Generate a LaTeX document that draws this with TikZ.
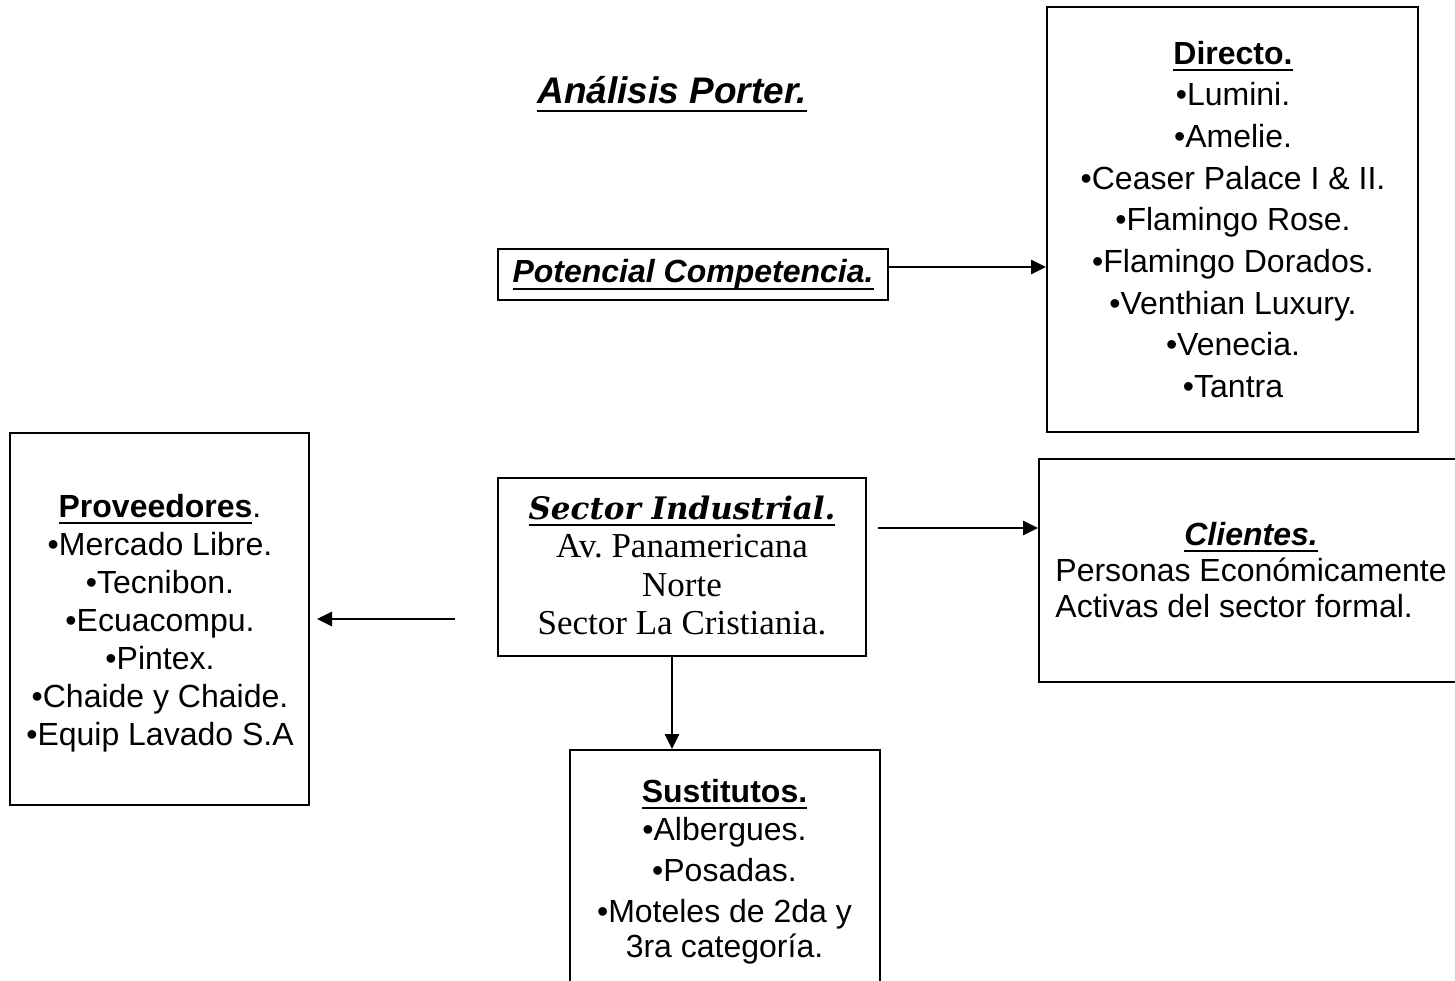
\documentclass[tikz,border=0pt]{standalone}
\usepackage{fontspec}
\setmainfont{Liberation Sans}
\newfontfamily\serifg{Liberation Serif}
\newfontfamily\serifh{DejaVu Serif}
\newcommand{\myul}[2][3.4pt]{\setbox0\hbox{#2}\hbox{\rlap{\rule[-#1]{\wd0}{1.1pt}}\box0}}
\usetikzlibrary{arrows.meta}
\frenchspacing
\begin{document}
\begin{tikzpicture}[x=0.5pt,y=-0.5pt,
  box/.style={draw, line width=1pt, inner sep=0pt},
  txt/.style={anchor=base, inner sep=0pt},
  arr/.style={line width=1.4pt, -{Triangle[length=7.5pt,width=7pt]}}]
\useasboundingbox (0,0) rectangle (1455,980);
\clip (0,0) rectangle (1455,980);
\fill[white] (0,0) rectangle (1455,980);

% title
\node[txt] (title) at (672,103) {\fontsize{18.5}{22}\selectfont\bfseries\itshape\myul[4.4pt]{\rule{0pt}{1pt}Análisis Porter.}};

% boxes
\node[box, minimum width=195pt, minimum height=25.5pt] (pot) at (693,274.5)
  {\fontsize{16}{19}\selectfont\bfseries\itshape\myul[4pt]{Potencial Competencia.}};
\node[box, minimum width=185.5pt, minimum height=212.5pt] (dir) at (1232.5,219.5) {};
\node[box, minimum width=149.5pt, minimum height=186pt] (prov) at (159.5,619) {};
\node[box, minimum width=184pt, minimum height=89pt] (sec) at (682,567) {};
\node[box, minimum width=215.5pt, minimum height=111.5pt] (cli) at (1254.5,570.5) {};
\node[box, minimum width=155pt, minimum height=125pt] (sus) at (724.5,875) {};

% texts
\node[txt] (dirtxt) at (1233,64) {\fontsize{16}{20.85}\selectfont
  \begin{tabular}[t]{@{}c@{}}
  \bfseries\myul{Directo.}\\
  •Lumini.\\
  •Amelie.\\
  •Ceaser Palace I \& II.\\
  •Flamingo Rose.\\
  •Flamingo Dorados.\\
  •Venthian Luxury.\\
  •Venecia.\\
  •Tantra
  \end{tabular}};

\node[txt] (provtxt) at (160,517) {\fontsize{16}{19}\selectfont
  \begin{tabular}[t]{@{}c@{}}
  \textbf{\myul{Proveedores}}.\\
  •Mercado Libre.\\
  •Tecnibon.\\
  •Ecuacompu.\\
  •Pintex.\\
  •Chaide y Chaide.\\
  •Equip Lavado S.A
  \end{tabular}};

\node[txt] (sectxt) at (682,519) {\serifg\fontsize{17.5}{19.25}\selectfont
  \begin{tabular}[t]{@{}c@{}}
  {\serifh\fontsize{15.5}{19.25}\selectfont\bfseries\itshape\myul{Sector Industrial.}}\\
  Av. Panamericana\\
  Norte\\
  Sector La Cristiania.
  \end{tabular}};

\node[anchor=base west, inner sep=0pt] (clitxt) at (1055,545) {\fontsize{16}{18}\selectfont
  \begin{tabular}[t]{@{}l@{}}
  \multicolumn{1}{@{}c@{}}{\bfseries\itshape\myul{Clientes.}}\\
  Personas Económicamente\\
  Activas del sector formal.
  \end{tabular}};

\node[txt] (sustxt) at (724.5,802) {\fontsize{16}{19}\selectfont
  \begin{tabular}[t]{@{}c@{}}
  \textbf{\myul{Sustitutos.}}\\
  •Albergues.\\[1.5pt]
  •Posadas.\\[1.5pt]
  •Moteles de 2da y\\[-1.5pt]
  3ra categoría.
  \end{tabular}};

% connectors
\coordinate (p1) at (888,267);
\coordinate (p2) at (878,528);
\coordinate (p3) at (455,619);
\coordinate (p4) at (672,700);
\draw[arr] (pot.east |- p1) -- (dir.west |- p1);
\draw[arr] (p2) -- (cli.west |- p2);
\draw[arr] (p3) -- ([xshift=3.5pt]prov.east |- p3);
\draw[arr] (sec.south -| p4) -- (sus.north -| p4);
\end{tikzpicture}
\end{document}
